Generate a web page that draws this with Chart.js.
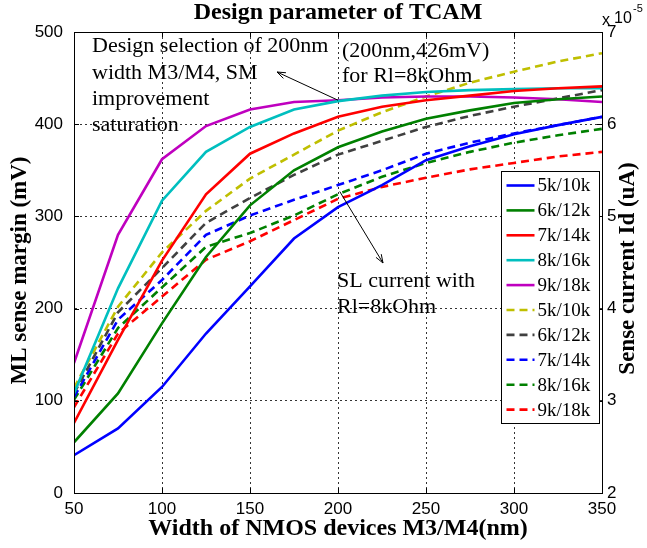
<!DOCTYPE html>
<html>
<head>
<meta charset="utf-8">
<title>Design parameter of TCAM</title>
<script src="https://cdn.jsdelivr.net/npm/chart.js@4/dist/chart.umd.min.js"></script>
<style>
  html, body { margin: 0; padding: 0; background: #fff; }
  canvas { display: block; }
</style>
</head>
<body>
<canvas id="tcam" width="647" height="548"></canvas>
<script>
// NMOS width of M3/M4 (nm)
const widths = [50, 75, 100, 125, 150, 175, 200, 225, 250, 275, 300, 325, 350];

// Resistance pairs (low/high)
const pairLabels = ['5k/10k', '6k/12k', '7k/14k', '8k/16k', '9k/18k'];

// ML sense margin (mV) – solid lines, left axis
const margin5k = [41, 70, 115, 173, 224, 276, 310, 334, 361, 376, 389, 399, 408];
const margin6k = [55, 108, 184, 256, 312, 350, 375, 392, 406, 415, 423, 427, 430];
const margin7k = [76, 166, 252, 324, 368, 390, 408, 419, 426, 431, 436, 439, 441];
const margin8k = [108, 222, 317, 370, 397, 416, 425, 431, 435, 437, 438, 439, 439];
const margin9k = [141, 280, 362, 398, 416, 424, 426, 429, 430, 430, 429, 427, 424];

// SL sense current Id (x 1e-5 A) – dashed lines, right axis
const current5k = [3.14, 4.02, 4.61, 5.06, 5.41, 5.67, 5.93, 6.13, 6.30, 6.45, 6.57, 6.68, 6.77];
const current6k = [3.08, 3.96, 4.44, 4.93, 5.20, 5.45, 5.67, 5.82, 5.97, 6.09, 6.19, 6.28, 6.37];
const current7k = [3.04, 3.88, 4.31, 4.80, 5.01, 5.18, 5.34, 5.50, 5.68, 5.80, 5.90, 5.99, 6.08];
const current8k = [3.01, 3.79, 4.23, 4.67, 4.82, 5.01, 5.24, 5.43, 5.58, 5.70, 5.80, 5.88, 5.95];
const current9k = [2.93, 3.73, 4.13, 4.53, 4.73, 4.96, 5.19, 5.32, 5.42, 5.51, 5.58, 5.65, 5.70];

// Axis ticks
const widthTicks = [50, 100, 150, 200, 250, 300, 350];
const marginTicks = [0, 100, 200, 300, 400, 500];
const currentTicks = [2, 3, 4, 5, 6, 7];

const solidColors = ['#0000ff', '#008000', '#ff0000', '#00bfbf', '#bf00bf'];
const dashedColors = ['#bfbf00', '#404040', '#0000ff', '#008000', '#ff0000'];

const marginSeries = [margin5k, margin6k, margin7k, margin8k, margin9k];
const currentSeries = [current5k, current6k, current7k, current8k, current9k];

const toPoints = vals => widths.map((w, i) => ({ x: w, y: vals[i] }));

const datasets = [];
marginSeries.forEach((vals, i) => datasets.push({
  label: pairLabels[i], data: toPoints(vals), yAxisID: 'y',
  borderColor: solidColors[i], borderWidth: 2.6, pointRadius: 0, tension: 0, fill: false
}));
currentSeries.forEach((vals, i) => datasets.push({
  label: pairLabels[i], data: toPoints(vals), yAxisID: 'y1',
  borderColor: dashedColors[i], borderWidth: 2.6, borderDash: [8, 5],
  pointRadius: 0, tension: 0, fill: false
}));

const SERIF = '"Liberation Serif", "Times New Roman", serif';
const SANS = '"Liberation Sans", Arial, sans-serif';

function arrow(ctx, x1, y1, x2, y2) {
  ctx.beginPath();
  ctx.moveTo(x1, y1);
  ctx.lineTo(x2, y2);
  ctx.stroke();
  const ang = Math.atan2(y2 - y1, x2 - x1);
  const len = 9, spread = 0.35;
  ctx.beginPath();
  ctx.moveTo(x2 - len * Math.cos(ang - spread), y2 - len * Math.sin(ang - spread));
  ctx.lineTo(x2, y2);
  ctx.lineTo(x2 - len * Math.cos(ang + spread), y2 - len * Math.sin(ang + spread));
  ctx.stroke();
}

// Frame, inner tick marks, titles, annotations and legend
const decorations = {
  id: 'decorations',
  afterDatasetsDraw(chart) {
    const { ctx, chartArea: a, scales } = chart;
    const sx = scales.x, sy = scales.y, sy1 = scales.y1;
    ctx.save();
    ctx.strokeStyle = '#000';
    ctx.lineWidth = 1;
    ctx.setLineDash([]);

    // inner tick marks
    ctx.beginPath();
    widthTicks.forEach(v => {
      const px = Math.round(sx.getPixelForValue(v)) + 0.5;
      ctx.moveTo(px, a.bottom); ctx.lineTo(px, a.bottom - 5);
      ctx.moveTo(px, a.top); ctx.lineTo(px, a.top + 5);
    });
    marginTicks.forEach(v => {
      const py = Math.round(sy.getPixelForValue(v)) + 0.5;
      ctx.moveTo(a.left, py); ctx.lineTo(a.left + 5, py);
    });
    currentTicks.forEach(v => {
      const py = Math.round(sy1.getPixelForValue(v)) + 0.5;
      ctx.moveTo(a.right, py); ctx.lineTo(a.right - 5, py);
    });
    ctx.stroke();

    // plot box
    ctx.strokeRect(Math.round(a.left) + 0.5, Math.round(a.top) + 0.5,
      Math.round(a.right - a.left), Math.round(a.bottom - a.top));

    ctx.fillStyle = '#000';
    ctx.textBaseline = 'middle';

    // chart title
    ctx.textAlign = 'center';
    ctx.font = 'bold 24px ' + SERIF;
    ctx.fillText('Design parameter of TCAM', (a.left + a.right) / 2, 13);

    // x axis title
    ctx.fillText('Width of NMOS devices M3/M4(nm)', (a.left + a.right) / 2, 529);

    // y axis titles
    ctx.font = 'bold 23px ' + SERIF;
    ctx.save();
    ctx.translate(20, (a.top + a.bottom) / 2 + 8);
    ctx.rotate(-Math.PI / 2);
    ctx.fillText('ML sense margin (mV)', 0, 0);
    ctx.restore();
    ctx.save();
    ctx.translate(628, (a.top + a.bottom) / 2 + 6);
    ctx.rotate(-Math.PI / 2);
    ctx.fillText('Sense current Id (uA)', 0, 0);
    ctx.restore();

    // exponent of the right axis
    ctx.textAlign = 'left';
    ctx.font = '16px ' + SANS;
    ctx.fillText('x', a.right + 0, 21);
    ctx.fillText('10', a.right + 12, 19);
    ctx.font = '11px ' + SANS;
    ctx.fillText('-5', a.right + 31, 9);

    // annotations
    ctx.font = '22px ' + SERIF;
    ctx.fillText('Design selection of 200nm', 92, 46);
    ctx.fillText('width M3/M4, SM', 92, 73);
    ctx.fillText('improvement', 92, 99);
    ctx.fillText('saturation', 92, 125);
    ctx.fillText('(200nm,426mV)', 342, 51);
    ctx.fillText('for Rl=8kOhm', 342, 76);
    ctx.fillText('SL current with', 337, 281);
    ctx.fillText('Rl=8kOhm', 337, 307);

    ctx.lineWidth = 1;
    arrow(ctx, sx.getPixelForValue(200), sy.getPixelForValue(426), 277, 72);
    arrow(ctx, sx.getPixelForValue(201), sy1.getPixelForValue(5.27), 383, 263);

    // legend
    const bx = Math.round(a.right) - 100.5, by = Math.round(a.top) + 139.5;
    const bw = 98, bh = 252, rowH = 24.9;
    ctx.fillStyle = '#fff';
    ctx.fillRect(bx, by, bw, bh);
    ctx.strokeStyle = '#000';
    ctx.strokeRect(bx, by, bw, bh);
    ctx.font = '19px ' + SERIF;
    chart.data.datasets.forEach((ds, i) => {
      const cy = by + 14 + i * rowH;
      ctx.strokeStyle = ds.borderColor;
      ctx.lineWidth = 2.6;
      ctx.setLineDash(ds.borderDash || []);
      ctx.beginPath();
      ctx.moveTo(bx + 5, cy);
      ctx.lineTo(bx + 33, cy);
      ctx.stroke();
      ctx.setLineDash([]);
      ctx.fillStyle = '#000';
      ctx.fillText(ds.label, bx + 36, cy + 1);
    });
    ctx.restore();
  }
};

const gridStyle = { color: '#000', lineWidth: 0.8, drawTicks: false };
const borderStyle = { color: '#000', width: 1, dash: [2, 3] };

new Chart(document.getElementById('tcam'), {
  type: 'line',
  data: { datasets },
  options: {
    responsive: false,
    animation: false,
    devicePixelRatio: 1,
    layout: { padding: { top: 32, left: 0, right: 0, bottom: 0 } },
    plugins: { legend: { display: false }, title: { display: false }, tooltip: { enabled: false } },
    scales: {
      x: {
        type: 'linear', min: 50, max: 350,
        afterBuildTicks: s => { s.ticks = widthTicks.map(v => ({ value: v })); },
        afterFit: s => { s.height = 55; },
        grid: gridStyle, border: borderStyle,
        ticks: { color: '#000', font: { family: SANS, size: 17 }, padding: 6, maxRotation: 0 }
      },
      y: {
        position: 'left', min: 0, max: 500,
        afterBuildTicks: s => { s.ticks = marginTicks.map(v => ({ value: v })); },
        afterFit: s => { s.width = 74; },
        grid: gridStyle, border: borderStyle,
        ticks: { color: '#000', font: { family: SANS, size: 17 }, padding: 11 }
      },
      y1: {
        position: 'right', min: 2, max: 7,
        afterBuildTicks: s => { s.ticks = currentTicks.map(v => ({ value: v })); },
        afterFit: s => { s.width = 45; },
        grid: { display: false, drawTicks: false }, border: { color: '#000', width: 1 },
        ticks: { color: '#000', font: { family: SANS, size: 17 }, padding: 5 }
      }
    }
  },
  plugins: [decorations]
});
</script>
</body>
</html>
